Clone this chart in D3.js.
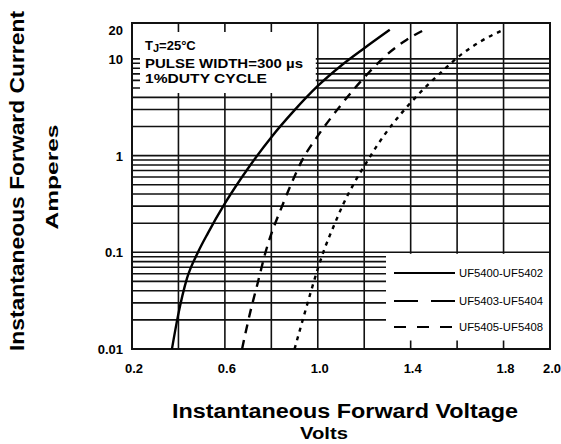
<!DOCTYPE html>
<html>
<head>
<meta charset="utf-8">
<script src="https://cdn.jsdelivr.net/npm/d3@7"></script>
<style>
  body { margin: 0; background: #fff; }
  text { font-family: "Liberation Sans", Arial, sans-serif; fill: #000; }
</style>
</head>
<body>
<div id="chart"></div>
<script>
// axis values
var xTickValues = [0.2, 0.6, 1.0, 1.4, 1.8, 2.0];
var xTickLabels = ["0.2", "0.6", "1.0", "1.4", "1.8", "2.0"];
var xGridValues = [0.4, 0.6, 0.8, 1.0, 1.2, 1.4, 1.6, 1.8];
var yTickValues = [0.01, 0.1, 1, 10, 20];
var yTickLabels = ["0.01", "0.1", "1", "10", "20"];
var yGridValues = [0.02, 0.03, 0.04, 0.05, 0.06, 0.07, 0.08, 0.09, 0.1,
                   0.2, 0.3, 0.4, 0.5, 0.6, 0.7, 0.8, 0.9, 1,
                   2, 3, 4, 5, 6, 7, 8, 9, 10];

// forward voltage (V) vs forward current (A)
var voltsA = [0.372, 0.398, 0.437, 0.484, 0.527, 0.60, 0.70, 0.80, 0.90, 1.00, 1.10, 1.20, 1.31];
var ampsA  = [0.01, 0.022, 0.054, 0.1, 0.158, 0.32, 0.74, 1.55, 2.95, 5.25, 8.5, 12.9, 20];
var voltsB = [0.674, 0.69, 0.71, 0.74, 0.775, 0.85, 0.89, 0.93, 1.00, 1.08, 1.16, 1.22, 1.30, 1.38, 1.46];
var ampsB  = [0.01, 0.0151, 0.0245, 0.0468, 0.1, 0.316, 0.537, 0.871, 1.6, 2.9, 5.0, 7.24, 11.2, 15.6, 20];
var voltsC = [0.90, 0.94, 0.97, 1.00, 1.03, 1.07, 1.11, 1.16, 1.21, 1.26, 1.32, 1.39, 1.46, 1.54, 1.62, 1.70, 1.80];
var ampsC  = [0.01, 0.0219, 0.0389, 0.0676, 0.11, 0.19, 0.316, 0.537, 0.85, 1.32, 2.09, 3.31, 5.0, 7.6, 11.2, 15.1, 20];

var seriesNames = ["UF5400-UF5402", "UF5403-UF5404", "UF5405-UF5408"];
var noteLines = ["PULSE WIDTH=300 \u00b5s", "1%DUTY CYCLE"];

var width = 561, height = 444;
var plotLeft = 132, plotRight = 550, plotTop = 23, plotBottom = 349;

var svg = d3.select("#chart").append("svg")
    .attr("width", width)
    .attr("height", height);

var x = d3.scaleLinear().domain([0.2, 2.0]).range([plotLeft, plotRight]);
var y = d3.scaleLog().domain([0.01, 23.5]).range([plotBottom, plotTop]);

// grid
var grid = svg.append("g").attr("stroke", "#111").attr("stroke-width", 1.6);
grid.selectAll("line.v").data(xGridValues).enter().append("line")
    .attr("x1", function(d) { return x(d); })
    .attr("x2", function(d) { return x(d); })
    .attr("y1", plotTop).attr("y2", plotBottom);
grid.selectAll("line.h").data(yGridValues).enter().append("line")
    .attr("x1", plotLeft).attr("x2", plotRight)
    .attr("y1", function(d) { return y(d); })
    .attr("y2", function(d) { return y(d); });

// white boxes for the note and the legend (grid stubs left at the edges)
svg.append("rect").attr("x", plotLeft + 8).attr("y", plotTop + 9)
    .attr("width", x(1.0) - plotLeft - 10).attr("height", 61).attr("fill", "#fff");
svg.append("rect").attr("x", 386).attr("y", y(0.1) + 1.5)
    .attr("width", plotRight - 386).attr("height", plotBottom - y(0.1) - 10).attr("fill", "#fff");

// frame
svg.append("rect").attr("x", plotLeft).attr("y", plotTop)
    .attr("width", plotRight - plotLeft).attr("height", plotBottom - plotTop)
    .attr("fill", "none").attr("stroke", "#111").attr("stroke-width", 2);

// curves
var line = d3.line()
    .x(function(d) { return x(d[0]); })
    .y(function(d) { return y(d[1]); })
    .curve(d3.curveMonotoneX);

var series = [
  { v: voltsA, a: ampsA, dash: null },
  { v: voltsB, a: ampsB, dash: "9,7" },
  { v: voltsC, a: ampsC, dash: "4,5" }
];
series.forEach(function(s) {
  svg.append("path")
    .datum(d3.zip(s.v, s.a))
    .attr("d", line)
    .attr("fill", "none")
    .attr("stroke", "#000")
    .attr("stroke-width", 2.4)
    .attr("stroke-dasharray", s.dash);
});

// tick labels
svg.append("g").selectAll("text").data(xTickValues).enter().append("text")
    .attr("x", function(d) { return x(d) + 2; })
    .attr("y", 373)
    .attr("text-anchor", "middle")
    .attr("font-size", 13).attr("font-weight", "bold")
    .text(function(d, i) { return xTickLabels[i]; });
svg.append("g").selectAll("text").data(yTickValues).enter().append("text")
    .attr("x", 123)
    .attr("y", function(d) { return y(d) + 5; })
    .attr("text-anchor", "end")
    .attr("font-size", 13).attr("font-weight", "bold")
    .text(function(d, i) { return yTickLabels[i]; });

// axis titles
svg.append("text").attr("x", 345).attr("y", 418)
    .attr("text-anchor", "middle").attr("font-size", 20).attr("font-weight", "bold")
    .attr("textLength", 346).attr("lengthAdjust", "spacingAndGlyphs")
    .text("Instantaneous Forward Voltage");
svg.append("text").attr("x", 324).attr("y", 439)
    .attr("text-anchor", "middle").attr("font-size", 17).attr("font-weight", "bold")
    .attr("textLength", 48).attr("lengthAdjust", "spacingAndGlyphs")
    .text("Volts");
svg.append("text")
    .attr("transform", "translate(24,181) rotate(-90)")
    .attr("text-anchor", "middle").attr("font-size", 20).attr("font-weight", "bold")
    .attr("textLength", 340).attr("lengthAdjust", "spacingAndGlyphs")
    .text("Instantaneous Forward Current");
svg.append("text")
    .attr("transform", "translate(58,177) rotate(-90)")
    .attr("text-anchor", "middle").attr("font-size", 17).attr("font-weight", "bold")
    .attr("textLength", 105).attr("lengthAdjust", "spacingAndGlyphs")
    .text("Amperes");

// note in the top-left box
var note = svg.append("g").attr("font-size", 13).attr("font-weight", "bold");
var tj = note.append("text").attr("x", 145).attr("y", 50);
tj.append("tspan").text("T");
tj.append("tspan").attr("dy", 2).attr("font-size", 11).text("J");
tj.append("tspan").attr("dy", -2).text("=25\u00b0C");
var noteWidths = [158, 122];
note.selectAll("text.l").data(noteLines).enter().append("text")
    .attr("x", 145)
    .attr("y", function(d, i) { return 68 + i * 15; })
    .attr("textLength", function(d, i) { return noteWidths[i]; })
    .attr("lengthAdjust", "spacingAndGlyphs")
    .text(function(d) { return d; });

// legend
var legendDash = [null, "24,13", "12,11"];
var legendY = [273, 301, 327];
seriesNames.forEach(function(name, i) {
  svg.append("line")
    .attr("x1", 394).attr("x2", 455)
    .attr("y1", legendY[i]).attr("y2", legendY[i])
    .attr("stroke", "#000").attr("stroke-width", 1.8)
    .attr("stroke-dasharray", legendDash[i]);
  svg.append("text")
    .attr("x", 459).attr("y", legendY[i] + 4)
    .attr("font-size", 10.5)
    .attr("textLength", 84).attr("lengthAdjust", "spacingAndGlyphs")
    .text(name);
});
</script>
</body>
</html>
